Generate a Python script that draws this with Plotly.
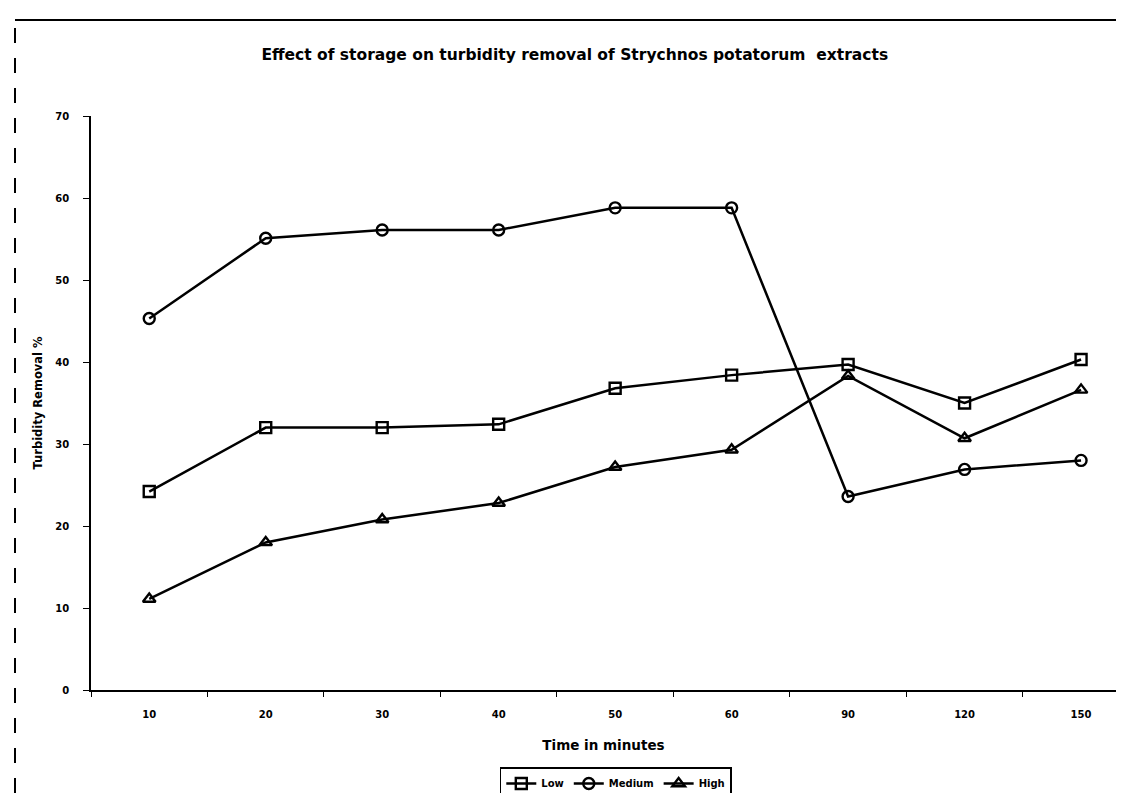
import plotly.graph_objects as go

times = ["10", "20", "30", "40", "50", "60", "90", "120", "150"]
low = [24.2, 32.0, 32.0, 32.4, 36.8, 38.4, 39.7, 35.0, 40.3]
medium = [45.3, 55.1, 56.1, 56.1, 58.8, 58.8, 23.6, 26.9, 28.0]
high = [11.1, 18.0, 20.8, 22.8, 27.2, 29.3, 38.3, 30.7, 36.6]

FONT = "DejaVu Sans"

W, H = 1108, 785  # page body keeps an 8px margin, so the figure fills the window exactly
L, R, T, B = 83, 0, 108, 103

fig = go.Figure()
series = [("Low", low, "square-open"), ("Medium", medium, "circle-open"), ("High", high, "triangle-up-open")]
for name, vals, sym in series:
    fig.add_trace(go.Scatter(
        x=times, y=vals, name=name, mode="lines+markers",
        line=dict(color="black", width=2.5),
        marker=dict(symbol=sym, size=11, color="black", line=dict(width=2.4, color="black")),
    ))

fig.update_layout(
    width=W, height=H,
    paper_bgcolor="white", plot_bgcolor="white",
    margin=dict(l=L, r=R, t=T, b=B, autoexpand=False),
    font=dict(family=FONT, color="black", size=10),
    title=dict(text="<b>Effect of storage on turbidity removal of Strychnos potatorum  extracts</b>",
               x=0.472, xanchor="center", xref="paper", y=1 - 47 / H, yanchor="middle",
               font=dict(size=15.5, family=FONT)),
    showlegend=True,
    legend=dict(orientation="h", x=0.512, xanchor="center", y=-0.135, yanchor="top",
                bordercolor="black", borderwidth=1.5, bgcolor="white",
                font=dict(size=10, family=FONT, weight="bold"), itemwidth=30),
    xaxis=dict(type="category", range=[-0.5, 8.3], showline=True, linecolor="black", linewidth=1.5,
               ticks="outside", tickson="boundaries", ticklen=5, tickcolor="black",
               showgrid=False, zeroline=False, ticklabelstandoff=14,
               tickfont=dict(size=10, family=FONT),
               title=dict(text="<b>Time in minutes</b>", font=dict(size=13.5, family=FONT), standoff=22)),
    yaxis=dict(range=[0, 70], dtick=10, showline=True, linecolor="black", linewidth=1.5,
               ticks="outside", ticklen=6, tickcolor="black", showgrid=False, zeroline=False,
               ticklabelstandoff=12,
               tickfont=dict(size=10, family=FONT),
               title=dict(text="<b>Turbidity Removal %</b>", font=dict(size=11.5, family=FONT), standoff=10)),
)
fig.update_xaxes(tickprefix="<b>", ticksuffix="</b>")
fig.update_yaxes(tickprefix="<b>", ticksuffix="</b>")

pw = W - L - R
ph = H - T - B
fx = (7 - L) / pw
fy_top = (ph + T - 12) / ph
fy_bot = -(B) / ph
# page frame (left and top border lines)
fig.add_shape(type="line", xref="paper", yref="paper", x0=fx, x1=fx, y0=fy_bot, y1=fy_top,
              line=dict(color="black", width=2, dash="longdash"))
fig.add_shape(type="line", xref="paper", yref="paper", x0=fx, x1=1.0, y0=fy_top, y1=fy_top,
              line=dict(color="black", width=2))

fig.write_html("out.html")
